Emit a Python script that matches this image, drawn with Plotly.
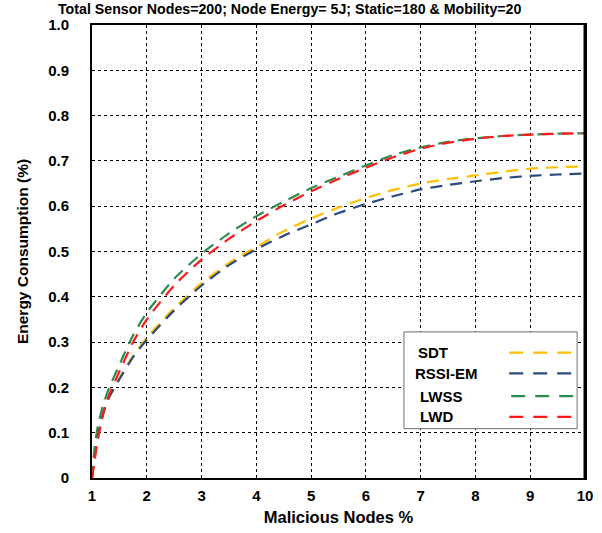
import plotly.graph_objects as go

x_vals = [1, 1.05, 1.1, 1.2, 1.3, 1.5, 1.75, 2, 2.5, 3, 3.5, 4, 4.5, 5, 5.5, 6, 6.5, 7, 7.5, 8, 8.5, 9, 9.5, 10]

sdt = [0, 0.05, 0.09, 0.14, 0.175, 0.22, 0.27, 0.31, 0.375, 0.43, 0.475, 0.51, 0.545, 0.573, 0.597,
       0.618, 0.636, 0.65, 0.66, 0.668, 0.676, 0.683, 0.686, 0.688]
rssi_em = [0, 0.05, 0.09, 0.14, 0.175, 0.218, 0.267, 0.305, 0.37, 0.425, 0.47, 0.505, 0.535, 0.56, 0.585,
           0.605, 0.622, 0.637, 0.647, 0.655, 0.662, 0.667, 0.67, 0.672]
lwss = [0, 0.07, 0.11, 0.16, 0.195, 0.25, 0.315, 0.365, 0.44, 0.495, 0.54, 0.578, 0.61, 0.64, 0.665,
        0.69, 0.713, 0.73, 0.742, 0.75, 0.755, 0.758, 0.76, 0.761]
lwd = [0, 0.04, 0.08, 0.14, 0.18, 0.235, 0.3, 0.35, 0.425, 0.482, 0.528, 0.567, 0.602, 0.633, 0.66,
       0.685, 0.708, 0.727, 0.74, 0.749, 0.755, 0.758, 0.76, 0.761]

series_names = ["SDT", "RSSI-EM", "LWSS", "LWD"]
series_vals = [sdt, rssi_em, lwss, lwd]
series_colors = ["#FFC000", "#2B4A7E", "#2E8A4E", "#FF1A1A"]

x_ticks = [1, 2, 3, 4, 5, 6, 7, 8, 9, 10]
y_ticks = [0, 0.1, 0.2, 0.3, 0.4, 0.5, 0.6, 0.7, 0.8, 0.9, 1.0]
y_tick_text = ["0", "0.1", "0.2", "0.3", "0.4", "0.5", "0.6", "0.7", "0.8", "0.9", "1.0"]

FONT = "Arial, Liberation Sans, sans-serif"
W, H = 602, 533
L, R, T, B = 92, 9, 25, 49
pw, ph = W - L - R, H - T - B

def px(xp):
    return (xp - L) / pw

def py(yp):
    return (H - B - yp) / ph

fig = go.Figure()
for name, vals, col in zip(series_names, series_vals, series_colors):
    fig.add_trace(go.Scatter(x=x_vals, y=vals, mode="lines", name=name,
                             line=dict(color=col, width=2.2, dash="12px,8px", shape="spline", smoothing=0.6),
                             showlegend=False))

# custom legend (symbols on the right)
shapes = [dict(type="rect", xref="paper", yref="paper", x0=px(409), x1=px(585), y0=py(434), y1=py(336),
               line=dict(color="#707070", width=1), fillcolor="white", layer="above"),
          dict(type="line", xref="paper", yref="paper", x0=1, x1=1, y0=0, y1=1,
               line=dict(color="black", width=3), layer="above")]
annotations = []
leg_y = [357, 378, 401, 422]
leg_tx = [421, 418, 423, 423]
leg_lx = [(516, 580), (516, 580), (518, 582), (516, 580)]
for name, col, yy, tx, (lx0, lx1) in zip(series_names, series_colors, leg_y, leg_tx, leg_lx):
    annotations.append(dict(text="<b>%s</b>" % name, xref="paper", yref="paper", x=px(tx), y=py(yy),
                            xanchor="left", yanchor="middle", showarrow=False,
                            font=dict(family=FONT, size=15, color="black")))
    shapes.append(dict(type="line", xref="paper", yref="paper", x0=px(lx0), x1=px(lx1), y0=py(yy), y1=py(yy),
                       line=dict(color=col, width=2.2, dash="14px,10px"), layer="above"))

annotations.append(dict(text="<b>Total Sensor Nodes=200; Node Energy= 5J; Static=180 &amp; Mobility=20</b>",
                        xref="paper", yref="paper", x=px(293), y=py(9), xanchor="center", yanchor="middle",
                        showarrow=False, font=dict(family=FONT, size=14.2, color="black")))

fig.update_layout(
    width=W, height=H,
    margin=dict(l=L, r=R, t=T, b=B, pad=0),
    plot_bgcolor="white", paper_bgcolor="white",
    shapes=shapes, annotations=annotations,
    font=dict(family=FONT, color="black"),
    xaxis=dict(range=[1, 10], tickvals=x_ticks, ticktext=["<b>%d</b>" % v for v in x_ticks],
               tickfont=dict(family=FONT, size=15, color="black"),
               showgrid=True, gridcolor="black", griddash="dot", gridwidth=1.4,
               showline=True, linecolor="black", linewidth=2, mirror=True,
               zeroline=False, ticks="", ticklabelstandoff=3,
               title=dict(text="<b>Malicious Nodes %</b>", font=dict(family=FONT, size=16.5, color="black"),
                          standoff=8)),
    yaxis=dict(range=[0, 1.0], tickvals=y_ticks, ticktext=["<b>%s</b>" % t for t in y_tick_text],
               tickfont=dict(family=FONT, size=15, color="black"),
               showgrid=True, gridcolor="black", griddash="dot", gridwidth=1.4,
               showline=True, linecolor="black", linewidth=2, mirror=True,
               zeroline=False, ticks="", ticklabelstandoff=18,
               title=dict(text="<b>Energy Consumption (%)</b>", font=dict(family=FONT, size=15.5, color="black"),
                          standoff=16)),
)

fig.write_html("out.html")
